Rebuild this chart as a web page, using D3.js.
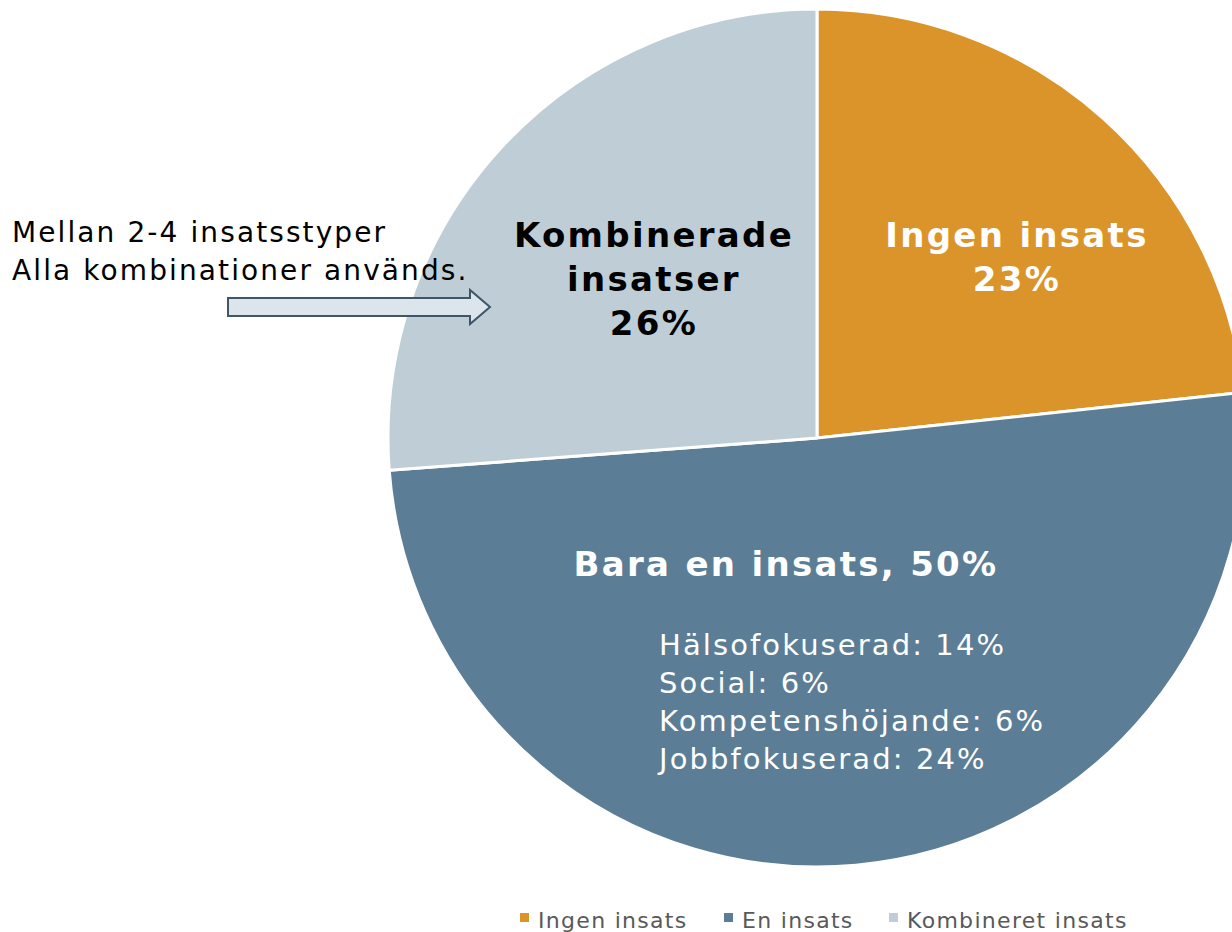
<!DOCTYPE html>
<html>
<head>
<meta charset="utf-8">
<script src="https://cdn.jsdelivr.net/npm/d3@7"></script>
<style>
  body { margin: 0; background: #fff; }
  svg { font-family: "DejaVu Sans", Verdana, sans-serif; }
</style>
</head>
<body>
<script>
var width = 1232;
var height = 932;

// slice data, clockwise from the top
var categories = ["Ingen insats", "En insats", "Kombineret insats"];
var values = [23.3, 50.5, 26.2];
var percentLabels = ["23%", "50%", "26%"];
var colors = ["#db942a", "#5b7e96", "#bfced6"];

// breakdown of "Bara en insats"
var subLabels = ["Hälsofokuserad", "Social", "Kompetenshöjande", "Jobbfokuserad"];
var subValues = [14, 6, 6, 24];

var noteLines = ["Mellan 2-4 insatsstyper", "Alla kombinationer används."];

var svg = d3.select("body")
            .append("svg")
            .attr("width", width)
            .attr("height", height);

var cx = 817, cy = 438, radius = 429;

var pie = d3.pie().sort(null).value(function(d) { return d; });
var arc = d3.arc().innerRadius(0).outerRadius(radius);

var g = svg.append("g").attr("transform", "translate(" + cx + "," + cy + ")");

g.selectAll("path")
    .data(pie(values))
    .enter()
    .append("path")
    .attr("d", arc)
    .attr("fill", function(d, i) { return colors[i]; })
    .attr("stroke", "white")
    .attr("stroke-width", 3)
    .attr("stroke-linejoin", "round");

// text blocks; letter-spacing widens DejaVu toward Verdana
function lines(x, y0, step, arr, opts) {
    var t = svg.append("text")
        .attr("text-anchor", opts.anchor || "middle")
        .attr("font-size", opts.size)
        .attr("font-weight", opts.weight || "normal")
        .attr("letter-spacing", opts.ls || 0)
        .attr("fill", opts.fill);
    arr.forEach(function(s, i) {
        t.append("tspan").attr("x", x).attr("y", y0 + i * step).text(s);
    });
}

lines(1017, 247, 44, ["Ingen insats", percentLabels[0]],
      {size: 34, weight: "bold", fill: "#fff", ls: 2.3});
lines(654, 247, 44, ["Kombinerade", "insatser", percentLabels[2]],
      {size: 34, weight: "bold", fill: "#000", ls: 2.3});
lines(786, 576, 0, ["Bara en insats, " + percentLabels[1]],
      {size: 34, weight: "bold", fill: "#fff", ls: 2.3});
lines(659, 655, 38, subLabels.map(function(s, i) { return s + ": " + subValues[i] + "%"; }),
      {size: 29, anchor: "start", fill: "#fff", ls: 2.1});

// annotation
lines(12, 242, 38, noteLines, {size: 28, anchor: "start", fill: "#000", ls: 2.1});

svg.append("path")
    .attr("d", "M228,298 L470,298 L470,290 L490,307 L470,324 L470,316 L228,316 Z")
    .attr("fill", "#dde5ec")
    .attr("stroke", "#3e5667")
    .attr("stroke-width", 2);

// legend
var legendX = [520, 724, 889];
var legend = svg.append("g");
categories.forEach(function(c, i) {
    legend.append("rect")
        .attr("x", legendX[i]).attr("y", 913)
        .attr("width", 9).attr("height", 9)
        .attr("fill", colors[i]);
    legend.append("text")
        .attr("x", legendX[i] + 18).attr("y", 928)
        .attr("font-size", 22)
        .attr("letter-spacing", 1.3)
        .attr("fill", "#595959")
        .text(c);
});
</script>
</body>
</html>
